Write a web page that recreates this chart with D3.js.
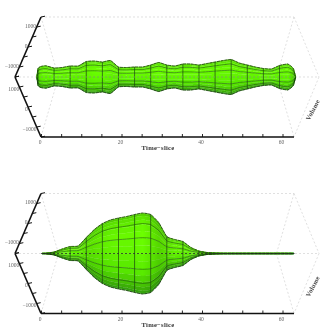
<!DOCTYPE html>
<html><head><meta charset="utf-8">
<script src="https://cdn.jsdelivr.net/npm/d3@7"></script>
<style>html,body{margin:0;padding:0;background:#fff}svg{display:block;filter:blur(0.3px)}text{font-family:"Liberation Serif",serif}</style>
</head><body><svg id="c" width="335" height="335"></svg>
<script>
const timeSlices = [-1,-0.75,-0.25,0.25,1.25,3.25,5.25,7.25,9.25,11.25,13.25,15.25,17.25,19.25,21.25,23.25,25.25,27.25,29.25,31.25,33.25,35.25,37.25,39.25,41.25,43.25,45.25,47.25,49.25,51.25,53.25,55.25,57.25,59.25,61.25,62.25,62.75,63.25];
const volumeTop = [20,420,510,540,560,450,475,550,550,775,800,750,825,500,475,500,500,600,725,600,550,650,650,600,675,750,825,875,700,600,500,425,400,575,650,525,400,20];
const volumeBottom = [0,0,0,10,15,75,225,350,375,800,1200,1500,1675,1775,1850,1950,2025,1950,1550,850,700,600,300,125,50,25,15,15,15,15,15,15,15,15,15,15,15,0];
const ringSlices = [-0.75,3.25,7.25,11.25,15.25,19.25,23.25,27.25,31.25,35.25,39.25,43.25,47.25,51.25,55.25,59.25];
const meshLevels = [-1,-0.74,-0.39,0.39,0.74,1];
const timeTicks = [0,5,10,15,20,25,30,35,40,45,50,55,60];
const timeLabels = [0,20,40,60];
const volumeTicks = [-1500,-1000,-500,0,500,1000,1500];
const volumeLabels = [-1000,0,1000];
const shadeStops = [-1,-0.85,-0.5,0,0.5,0.85,1];
const shadeColors = ["#50c800","#62f000","#6cff00","#66fa00","#58ea00","#40b804","#309a10"];
const bandLevels = d3.range(-1,1.0001,0.125).map(v=>Math.sin(v*Math.PI/2));

const svg = d3.select("#c");
const x = d3.scaleLinear([0,60],[41,282.5]);
const yTop = d3.scaleLinear([-1500,1500],[77,17]);
const yBot = d3.scaleLinear([1500,-1500],[77,137]);
const r = d3.scaleLinear([0,1000],[0,20]);
const shade = d3.scaleLinear(shadeStops,shadeColors);
const fmt = v => (v<0?"\u2212":"")+Math.abs(v);
const grey="#d2d2d2";
const curve = d3.curveCardinal.tension(.55);

function panel(dy,values,id,centre){
  const g = svg.append("g").attr("transform",`translate(0,${dy})`);
  const pts = timeSlices.map((t,i)=>({t,v:values[i]})).filter(d=>d.v>0);
  const dash = [[41,17,294,17],[41,17,58.5,77],[58.5,77,41,137],[294,17,276.5,77],[276.5,77,294,137],[294,17,319,77],[319,77,294,137],[15,77,319,77]];
  g.append("g").selectAll("line").data(dash).join("line")
    .attr("x1",d=>d[0]).attr("y1",d=>d[1]).attr("x2",d=>d[2]).attr("y2",d=>d[3])
    .attr("stroke",grey).attr("stroke-width",.7).attr("stroke-dasharray","2 2");
  const band = (a,b)=>d3.area().x(d=>x(d.t)).y0(d=>77+a*r(d.v)).y1(d=>77+b*r(d.v)).curve(curve);
  const bands = d3.pairs(bandLevels);
  g.append("g").selectAll("path").data(bands).join("path")
    .attr("d",d=>band(d[0],d[1])(pts))
    .attr("fill",d=>shade((d[0]+d[1])/2)).attr("stroke",d=>shade((d[0]+d[1])/2)).attr("stroke-width",.3);
  const grad = svg.append("linearGradient").attr("id",id).attr("gradientUnits","userSpaceOnUse")
    .attr("x1",x(-1)).attr("x2",x(63.25)).attr("y1",0).attr("y2",0);
  const dom=x(63.25)-x(-1);
  pts.forEach((d,i)=>{
    if(i==0||i==pts.length-1) return;
    const s=(r(pts[i+1].v)-r(pts[i-1].v))/(x(pts[i+1].t)-x(pts[i-1].t));
    grad.append("stop").attr("offset",(x(d.t)-x(-1))/dom).attr("stop-color","#003000")
      .attr("stop-opacity",Math.min(.22,Math.abs(s)*.14));
  });
  g.append("path").attr("d",band(-1,1)(pts)).attr("fill",`url(#${id})`);
  const lineAt = l=>d3.line().x(d=>x(d.t)).y(d=>77+l*r(d.v)).curve(curve);
  g.append("g").selectAll("path").data(meshLevels).join("path")
    .attr("d",l=>lineAt(l)(pts)).attr("fill","none")
    .attr("stroke",l=>Math.abs(l)==1?"#141a12":"#1c4a10").attr("stroke-width",l=>Math.abs(l)==1?.8:.65)
    .attr("stroke-dasharray",l=>Math.abs(l)==1?"3 .8":null)
    .attr("opacity",.85);
  const ringPts = ringSlices.map(t=>({t,v:values[timeSlices.indexOf(t)]})).filter(d=>d.v>0);
  g.append("g").selectAll("line").data(ringPts).join("line")
    .attr("x1",d=>x(d.t)).attr("x2",d=>x(d.t))
    .attr("y1",d=>77-r(d.v)).attr("y2",d=>77+r(d.v))
    .attr("stroke","#1d4a12").attr("stroke-width",.9).attr("opacity",.8);
  g.append("line").attr("x1",x(0)).attr("x2",x(63)).attr("y1",77).attr("y2",77)
    .attr("stroke",centre).attr("stroke-width",.8).attr("stroke-dasharray","2 2");
  const ax = d3.axisBottom(x).tickValues(timeTicks).tickSizeInner(-3).tickSizeOuter(0).tickFormat("");
  const ag = g.append("g").attr("transform","translate(0,137)").call(ax);
  ag.select(".domain").attr("d",`M${x(0)},0H294`).attr("stroke","#111").attr("stroke-width",1.4);
  ag.selectAll("line").attr("stroke","#111").attr("stroke-width",.9);
  g.append("g").selectAll("text").data(timeLabels).join("text")
    .attr("x",d=>x(d)-1).attr("y",144).attr("text-anchor","middle").attr("font-size",5.5).attr("fill","#666").text(fmt);
  const edgeX = y=>15+Math.abs(y-77)*26/60;
  [[yTop,-1,-1],[yBot,1,2]].forEach(([sc,dirn,off])=>{
    const e = g.append("g");
    e.append("line").attr("x1",15).attr("y1",77).attr("x2",41).attr("y2",sc(1500*(dirn<0?1:-1)))
      .attr("stroke","#111").attr("stroke-width",1.6);
    e.selectAll("line.t").data(volumeTicks).join(enter=>enter.append("line").attr("class","t"))
      .attr("x1",d=>edgeX(sc(d))).attr("y1",d=>sc(d))
      .attr("x2",d=>edgeX(sc(d))+4).attr("y2",d=>sc(d)-.8)
      .attr("stroke","#111").attr("stroke-width",1);
    e.selectAll("text").data(volumeLabels).join("text")
      .attr("x",d=>edgeX(sc(d)+off)-1).attr("y",d=>sc(d)+off+1.8)
      .attr("text-anchor","end").attr("font-size",5.5).attr("fill","#666").text(fmt);
  });
  g.append("text").attr("x",158).attr("y",150).attr("text-anchor","middle").attr("font-size",6.6)
    .attr("font-weight","bold").attr("fill","#333").attr("letter-spacing",.25).text("Time\u2212slice");
  g.append("text").attr("transform","translate(313,110) rotate(-62)").attr("dy",2).attr("text-anchor","middle")
    .attr("font-size",6.6).attr("font-weight","bold").attr("fill","#444").attr("letter-spacing",.2).text("Volume");
}
panel(0,volumeTop,"slopeA","#7f9a70");
panel(176.5,volumeBottom,"slopeB","#2a3424");
</script></body></html>
